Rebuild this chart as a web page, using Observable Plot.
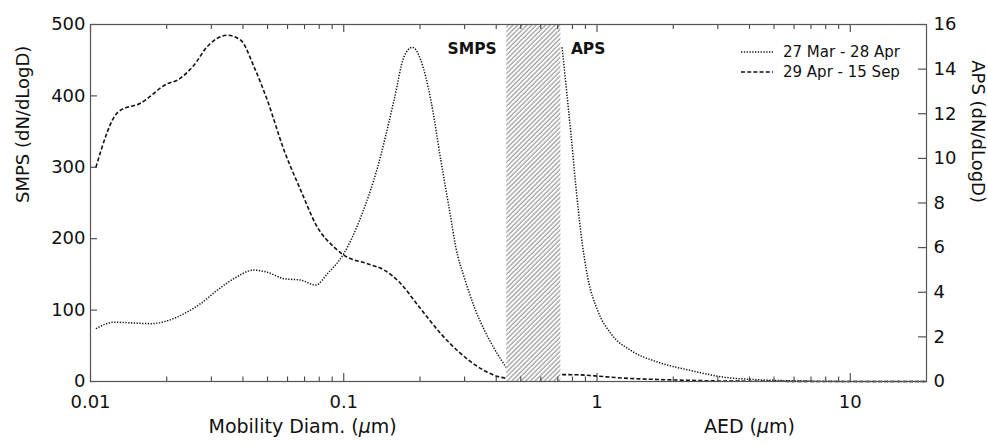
<!DOCTYPE html>
<html><head><meta charset="utf-8">
<script src="https://cdn.jsdelivr.net/npm/d3@7"></script>
<script src="https://cdn.jsdelivr.net/npm/@observablehq/plot@0.6"></script>
<style>
html,body{margin:0;padding:0;background:#fff;}
#wrap{position:relative;width:988px;height:446px;font-family:"DejaVu Sans",sans-serif;}
#legend{position:absolute;left:741px;top:42px;font-size:15px;color:#111;}
.row{display:flex;align-items:center;height:20px;white-space:nowrap;}
.row svg{margin-right:10px;}
</style></head><body><div id="wrap"></div>
<script>
// ---- data ----
const seriesNames = ["27 Mar - 28 Apr", "29 Apr - 15 Sep"];
// SMPS, 27 Mar - 28 Apr (dotted)
const smpsDiamA = [0.0105, 0.0124, 0.0148, 0.0173, 0.0201, 0.0234, 0.0272, 0.0317, 0.0368, 0.0442, 0.0499, 0.0581, 0.0676, 0.0775, 0.0862, 0.1, 0.1167, 0.136, 0.158, 0.173, 0.1867, 0.2015, 0.2208, 0.2417, 0.265, 0.277, 0.299, 0.328, 0.359, 0.393, 0.437];
const smpsA     = [74, 83, 82, 81, 85, 95, 109, 128, 144, 156, 153, 144, 142, 135, 151, 179, 230, 300, 394, 455, 468, 450, 394, 310, 228, 188, 146, 104, 72, 46, 20];
// SMPS, 29 Apr - 15 Sep (dashed)
const smpsDiamB = [0.0105, 0.0129, 0.0158, 0.0201, 0.022, 0.0256, 0.0289, 0.0347, 0.0392, 0.0442, 0.0499, 0.0581, 0.0676, 0.0787, 0.0917, 0.1, 0.124, 0.1445, 0.168, 0.195, 0.2417, 0.29, 0.348, 0.406, 0.437];
const smpsB     = [300, 378, 390, 417, 422, 443, 469, 485, 478, 441, 394, 324, 268, 216, 188, 177, 165, 156, 137, 108, 67, 39, 18, 7, 4.5];
// APS, 27 Mar - 28 Apr (dotted)
const apsDiamA = [0.728, 0.754, 0.789, 0.826, 0.865, 0.919, 1.006, 1.136, 1.36, 1.737, 2.35, 3.19, 4.31, 5.8, 8, 12, 20];
const apsA     = [14.98, 13.3, 11.1, 8.7, 6.6, 4.67, 3.18, 2.14, 1.39, 0.87, 0.49, 0.19, 0.08, 0.03, 0.01, 0, 0];
// APS, 29 Apr - 15 Sep (dashed)
const apsDiamB = [0.728, 0.84, 0.98, 1.28, 1.74, 2.35, 3.19, 5, 10, 20];
const apsB     = [0.31, 0.3, 0.25, 0.15, 0.09, 0.05, 0.02, 0.01, 0, 0];

const smpsTicks = [0, 100, 200, 300, 400, 500];
const apsTicks = [0, 2, 4, 6, 8, 10, 12, 14, 16];
const xMajorTicks = [0.01, 0.1, 1, 10];
const xMinorTicks = [0.02,0.03,0.04,0.05,0.06,0.07,0.08,0.09,0.2,0.3,0.4,0.5,0.6,0.7,0.8,0.9,2,3,4,5,6,7,8,9];
const gap = [0.44, 0.72];
const instrumentLabels = ["SMPS", "APS"];
const xTitles = ["Mobility Diam. (μm)", "AED (μm)"];
const xTitlePos = [0.0688, 4.0];
const yTitles = ["SMPS (dN/dLogD)", "APS (dN/dLogD)"];
const smpsMax = 500, apsMax = 16;

// ---- layout ----
const W = 988, H = 446, mL = 90, mR = 62, mT = 24, mB = 65;
const plotW = W - mL - mR, plotH = H - mT - mB;
const apsScale = smpsMax / apsMax;
function rows(diam, vals, inst) {
  return diam.map((d, i) => ({d, y: inst === "APS" ? vals[i] * apsScale : vals[i], inst}));
}
const lineA = [...rows(smpsDiamA, smpsA, "SMPS"), ...rows(apsDiamA, apsA, "APS")];
const lineB = [...rows(smpsDiamB, smpsB, "SMPS"), ...rows(apsDiamB, apsB, "APS")];
const apsTickPos = apsTicks.map(t => t * apsScale);
const dotDash = "1.3,1.5", dashDash = "4,2.2";
const axisColor = "#444";

const defs = () => {
  const ns = "http://www.w3.org/2000/svg";
  const d = document.createElementNS(ns, "defs");
  const p = document.createElementNS(ns, "pattern");
  p.setAttribute("id", "hatch");
  p.setAttribute("patternUnits", "userSpaceOnUse");
  p.setAttribute("width", "3.3");
  p.setAttribute("height", "10");
  p.setAttribute("patternTransform", "rotate(45)");
  const r = document.createElementNS(ns, "rect");
  r.setAttribute("width", "3.3"); r.setAttribute("height", "10"); r.setAttribute("fill", "#fff");
  const l = document.createElementNS(ns, "line");
  l.setAttribute("x1", "1"); l.setAttribute("x2", "1"); l.setAttribute("y1", "0"); l.setAttribute("y2", "10");
  l.setAttribute("stroke", "#999"); l.setAttribute("stroke-width", "1.2");
  p.appendChild(r); p.appendChild(l); d.appendChild(p);
  return d;
};

const chart = Plot.plot({
  width: W, height: H,
  marginLeft: mL, marginRight: mR, marginTop: mT, marginBottom: mB,
  style: {fontFamily: '"DejaVu Sans", sans-serif', fontSize: "18px", color: "#111", background: "#fff"},
  x: {type: "log", domain: [0.01, 20]},
  y: {domain: [0, smpsMax]},
  marks: [
    defs,
    Plot.rect([gap], {x1: d => d[0], x2: d => d[1], fill: "url(#hatch)"}),
    Plot.line(lineA, {x: "d", y: "y", z: "inst", stroke: "#111", strokeWidth: 1.5, strokeDasharray: dotDash, strokeLinecap: "butt", curve: "monotone-x"}),
    Plot.line(lineB, {x: "d", y: "y", z: "inst", stroke: "#111", strokeWidth: 1.6, strokeDasharray: dashDash, strokeLinecap: "butt", curve: "monotone-x"}),
    // inward ticks
    Plot.tickX(xMajorTicks, {x: d => d, stroke: axisColor, strokeWidth: 1.1, insetTop: plotH - 8}),
    Plot.tickX(xMinorTicks, {x: d => d, stroke: axisColor, strokeWidth: 1.1, insetTop: plotH - 4.5}),
    Plot.tickX(xMajorTicks, {x: d => d, stroke: axisColor, strokeWidth: 1.1, insetBottom: plotH - 8}),
    Plot.tickX(xMinorTicks, {x: d => d, stroke: axisColor, strokeWidth: 1.1, insetBottom: plotH - 5}),
    Plot.tickY(smpsTicks, {y: d => d, stroke: axisColor, strokeWidth: 1.1, insetRight: plotW - 7}),
    Plot.tickY(apsTickPos, {y: d => d, stroke: axisColor, strokeWidth: 1.1, insetLeft: plotW - 8}),
    Plot.frame({stroke: "#555", strokeWidth: 1.2}),
    // tick labels
    Plot.axisX(xMajorTicks, {anchor: "bottom", tickSize: 0, tickPadding: 14, tickFormat: d => String(d), label: null}),
    Plot.axisY(smpsTicks, {anchor: "left", tickSize: 0, tickPadding: 5, label: null}),
    Plot.axisY(apsTickPos, {anchor: "right", tickSize: 0, tickPadding: 7, tickFormat: v => String(Math.round(v / apsScale)), label: null}),
    // instrument labels
    Plot.text([instrumentLabels[0]], {x: () => gap[0], frameAnchor: "top", dy: 18, dx: -10, textAnchor: "end", fontSize: 15.5, fontWeight: "bold", text: d => d}),
    Plot.text([instrumentLabels[1]], {x: () => gap[1], frameAnchor: "top", dy: 18, dx: 10, textAnchor: "start", fontSize: 15.5, fontWeight: "bold", text: d => d}),
    // axis titles
    Plot.text(xTitles, {x: (d, i) => xTitlePos[i], text: d => d, frameAnchor: "bottom", dy: 51, fontSize: 19}),
    Plot.text([yTitles[0]], {text: d => d, frameAnchor: "left", rotate: -90, dx: -67, fontSize: 18}),
    Plot.text([yTitles[1]], {text: d => d, frameAnchor: "right", rotate: 90, dx: 51, fontSize: 18})
  ]
});

// italic mu
chart.querySelectorAll("text").forEach(t => {
  if (t.children.length === 0 && t.textContent.includes("μ")) {
    const parts = t.textContent.split("μ");
    t.textContent = "";
    parts.forEach((p, i) => {
      if (i > 0) {
        const ts = document.createElementNS("http://www.w3.org/2000/svg", "tspan");
        ts.setAttribute("font-style", "italic");
        ts.textContent = "μ";
        t.appendChild(ts);
      }
      t.appendChild(document.createTextNode(p));
    });
  }
});

const wrap = document.getElementById("wrap");
wrap.appendChild(chart);

// legend
const legend = document.createElement("div");
legend.id = "legend";
[[seriesNames[0], dotDash, 1.5], [seriesNames[1], dashDash, 1.6]].forEach(([name, dash, w]) => {
  const row = document.createElement("div");
  row.className = "row";
  row.innerHTML = `<svg width="32" height="6"><line x1="0" x2="32" y1="3" y2="3" stroke="#111" stroke-width="${w}" stroke-dasharray="${dash}"/></svg><span>${name}</span>`;
  legend.appendChild(row);
});
wrap.appendChild(legend);
</script></body></html>
